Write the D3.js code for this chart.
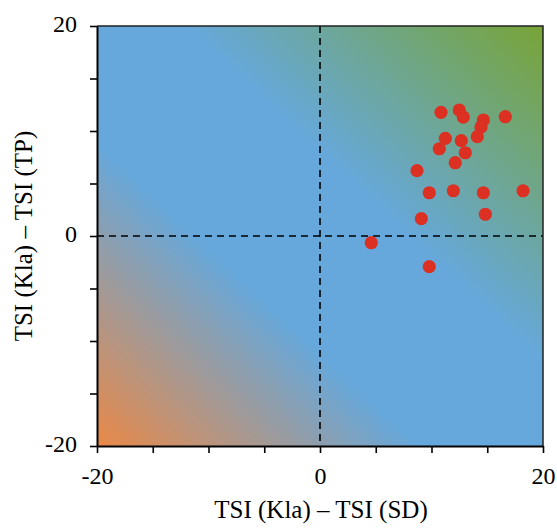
<!DOCTYPE html>
<html><head><meta charset="utf-8">
<script src="https://cdn.jsdelivr.net/npm/d3@7"></script>
<style>body{margin:0;background:#fff}svg{display:block}text{font-family:"Liberation Serif","Times New Roman",serif;fill:#000}</style>
</head><body><div id="chart"></div>
<script>
const xValues = [10.85,12.49,12.85,14.65,14.44,16.62,11.24,12.67,14.11,10.70,13.03,12.13,8.70,9.80,11.96,14.65,18.21,9.09,14.83,4.60,9.80];
const yValues = [11.78,12.0,11.33,11.05,10.38,11.36,9.30,9.08,9.46,8.31,7.93,6.98,6.22,4.12,4.31,4.12,4.31,1.65,2.07,-0.64,-2.92];
const tickValues = [-20,-15,-10,-5,0,5,10,15,20];
const tickLabels = [-20,0,20];
const xTitle = "TSI (Kla) – TSI (SD)";
const yTitle = "TSI (Kla) – TSI (TP)";

const W=557,H=528;
const L=97,R=543,T=26,B=446;
const svg=d3.select("#chart").append("svg").attr("width",W).attr("height",H);
const x=d3.scaleLinear().domain([-20,20]).range([L,R]);
const y=d3.scaleLinear().domain([-20,20]).range([B,T]);

const defs=svg.append("defs");
const g=defs.append("linearGradient").attr("id","bg").attr("x1",0).attr("y1",1).attr("x2",1).attr("y2",0);
[[0,"#ea8846"],[0.36,"#66a8db"],[0.6,"#66a8db"],[1,"#78a436"]].forEach(([o,c])=>g.append("stop").attr("offset",o).attr("stop-color",c));

svg.append("rect").attr("x",x(-20)).attr("y",y(20)).attr("width",x(20)-x(-20)).attr("height",y(-20)-y(20)).attr("fill","url(#bg)");

svg.append("line").attr("x1",x(0)).attr("x2",x(0)).attr("y1",y(20)).attr("y2",y(-20)).attr("stroke","#000").attr("stroke-width",1.6).attr("stroke-dasharray","7,5");
svg.append("line").attr("x1",x(-20)).attr("x2",x(20)).attr("y1",y(0)).attr("y2",y(0)).attr("stroke","#000").attr("stroke-width",1.6).attr("stroke-dasharray","7,5");

svg.append("path").attr("d",`M${x(-20)},${y(20)}H${x(20)}V${y(-20)}`).attr("fill","none").attr("stroke","#222").attr("stroke-width",1.5);

const fmt=d=>tickLabels.includes(d)?String(d).replace("\u2212","-"):"";
const xAxis=svg.append("g").attr("transform",`translate(0,${B})`).call(d3.axisBottom(x).tickValues(tickValues).tickSize(7).tickSizeOuter(0).tickPadding(14).tickFormat(fmt));
const yAxis=svg.append("g").attr("transform",`translate(${L},0)`).call(d3.axisLeft(y).tickValues(tickValues).tickSize(7).tickSizeOuter(0).tickPadding(13).tickFormat(fmt));
[xAxis,yAxis].forEach(a=>{
  a.attr("font-family",null).attr("font-size",null);
  a.select(".domain").attr("stroke","#000").attr("stroke-width",2);
  a.selectAll(".tick line").attr("stroke","#000").attr("stroke-width",1.6);
  a.selectAll(".tick text").style("font-size","24px").style("font-family","'Liberation Serif','Times New Roman',serif").attr("fill","#000");
});
yAxis.selectAll(".tick text").attr("dy","0.22em");
xAxis.selectAll(".tick text").attr("dy","0.72em");

svg.append("g").selectAll("circle").data(xValues.map((v,i)=>[v,yValues[i]])).join("circle")
  .attr("cx",d=>x(d[0])).attr("cy",d=>y(d[1])).attr("r",6.6).attr("fill","#dc3023");

svg.append("text").attr("x",(L+R)/2+1).attr("y",518).attr("text-anchor","middle").style("font-size","25px").text(xTitle);
svg.append("text").attr("transform",`translate(32,${(T+B)/2}) rotate(-90)`).attr("text-anchor","middle").style("font-size","25px").text(yTitle);
</script></body></html>
